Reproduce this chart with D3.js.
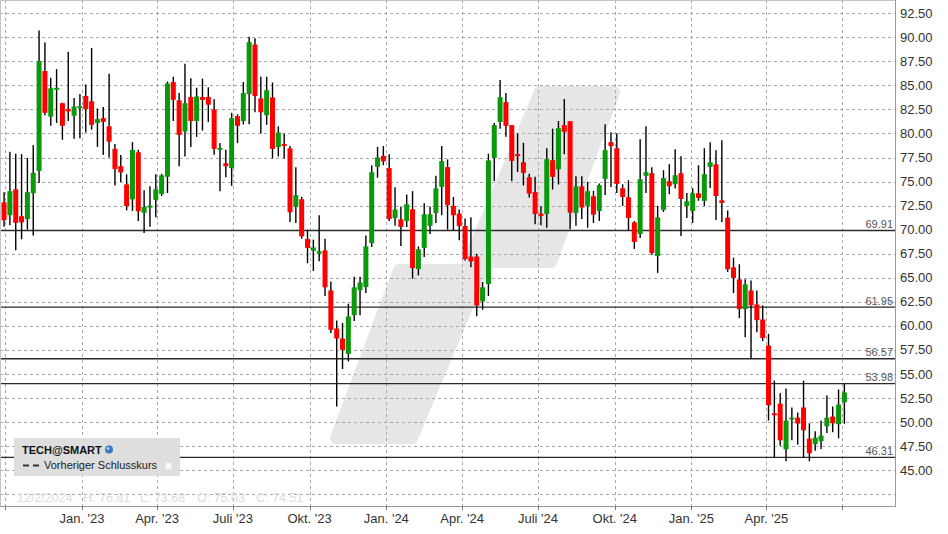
<!DOCTYPE html>
<html><head><meta charset="utf-8">
<script src="https://cdn.jsdelivr.net/npm/d3@7"></script>
<style>
body{margin:0;background:#fff}
svg{display:block}
text{font-family:"Liberation Sans",Arial,sans-serif}
</style>
</head><body>
<svg id="chart" width="948" height="534"></svg>
<script>
// ---------------- DATA ----------------
const dates = [
"2022-09-19","2022-09-26","2022-10-03","2022-10-10","2022-10-17","2022-10-24","2022-10-31","2022-11-07","2022-11-14","2022-11-21",
"2022-11-28","2022-12-05","2022-12-12","2022-12-19","2022-12-26","2023-01-02","2023-01-09","2023-01-16","2023-01-23","2023-01-30",
"2023-02-06","2023-02-13","2023-02-20","2023-02-27","2023-03-06","2023-03-13","2023-03-20","2023-03-27","2023-04-03","2023-04-10",
"2023-04-17","2023-04-24","2023-05-01","2023-05-08","2023-05-15","2023-05-22","2023-05-29","2023-06-05","2023-06-12","2023-06-19",
"2023-06-26","2023-07-03","2023-07-10","2023-07-17","2023-07-24","2023-07-31","2023-08-07","2023-08-14","2023-08-21","2023-08-28",
"2023-09-04","2023-09-11","2023-09-18","2023-09-25","2023-10-02","2023-10-09","2023-10-16","2023-10-23","2023-10-30","2023-11-06",
"2023-11-13","2023-11-20","2023-11-27","2023-12-04","2023-12-11","2023-12-18","2023-12-25","2024-01-01","2024-01-08","2024-01-15",
"2024-01-22","2024-01-29","2024-02-05","2024-02-12","2024-02-19","2024-02-26","2024-03-04","2024-03-11","2024-03-18","2024-03-25",
"2024-04-01","2024-04-08","2024-04-15","2024-04-22","2024-04-29","2024-05-06","2024-05-13","2024-05-20","2024-05-27","2024-06-03",
"2024-06-10","2024-06-17","2024-06-24","2024-07-01","2024-07-08","2024-07-15","2024-07-22","2024-07-29","2024-08-05","2024-08-12",
"2024-08-19","2024-08-26","2024-09-02","2024-09-09","2024-09-16","2024-09-23","2024-09-30","2024-10-07","2024-10-14","2024-10-21",
"2024-10-28","2024-11-04","2024-11-11","2024-11-18","2024-11-25","2024-12-02","2024-12-09","2024-12-16","2024-12-23","2024-12-30",
"2025-01-06","2025-01-13","2025-01-20","2025-01-27","2025-02-03","2025-02-10","2025-02-17","2025-02-24","2025-03-03","2025-03-10",
"2025-03-17","2025-03-24","2025-03-31","2025-04-07","2025-04-14","2025-04-21","2025-04-28","2025-05-05","2025-05-12","2025-05-19",
"2025-05-26","2025-06-02","2025-06-09","2025-06-16","2025-06-23","2025-06-30"];

const open = [
76.6,72.85,71.5,74.2,71.4,71.1,73.8,76.1,86.5,81.75,
84.6,83.15,82.55,81.85,82.7,83.9,83.35,81.1,81.6,80.75,
78.4,76.6,74.7,73.15,78.05,71.75,72.35,73.1,73.7,75.5,
85.35,83.45,80.2,83.8,81.3,83.8,83.8,82.5,78.3,76.9,
76.4,81.8,81.3,84.1,89.25,83.65,81.9,83.75,78.6,78.9,
78.45,72.36,73.16,69.03,67.8,67.5,67.85,63.68,59.72,58.68,
57.08,61.1,63.7,64.03,68.6,76.53,77.67,76.4,71.2,71.07,
70.9,72.12,65.9,68.1,70.4,71.74,74.44,76.5,72.47,71.67,
70.38,67.2,67.2,62.53,64.34,77.46,81.2,83.26,80.87,77.85,
77.0,75.45,73.9,71.67,71.63,77.22,76.28,80.87,81.28,71.74,
74.5,72.47,73.47,71.94,75.28,79.1,78.47,74.3,73.37,70.76,
69.55,75.6,75.87,67.26,72.05,75.03,74.72,75.87,72.47,71.94,
73.78,72.99,76.53,76.8,73.05,71.25,66.08,64.83,61.74,63.68,
62.22,60.66,57.95,50.9,51.9,47.15,50.28,50.45,51.5,48.26,
47.67,47.99,49.55,50.56,49.76,52.05];

const high = [
77.0,73.9,78.1,77.9,77.85,77.45,78.8,90.7,89.45,85.8,
86.7,83.2,88.5,83.7,84.1,85.1,88.9,82.6,82.75,86.2,
78.9,77.75,75.75,79.1,78.3,74.1,74.5,75.75,75.8,85.4,
85.9,84.2,87.25,85.75,84.75,85.7,84.8,83.55,79.0,78.3,
82.15,82.0,85.35,90.05,89.9,85.9,85.9,85.3,80.75,80.0,
78.7,76.5,73.4,70.0,68.96,71.5,69.06,64.6,60.55,60.3,
62.3,65.1,65.1,69.4,76.7,78.6,78.7,77.85,74.4,72.4,
73.65,74.0,68.26,72.74,72.4,75.6,78.7,77.3,73.4,72.1,
71.15,71.3,67.5,64.55,77.9,81.1,85.55,84.2,80.87,80.0,
79.03,75.8,75.5,72.43,78.47,80.5,81.3,83.58,81.28,75.56,
75.56,74.97,74.03,74.8,80.97,80.14,80.03,74.72,75.14,70.9,
79.4,80.76,76.5,72.47,76.18,76.81,78.37,77.64,73.8,74.3,
76.7,78.47,79.1,78.26,79.3,72.0,67.08,66.4,64.83,64.72,
63.68,62.12,59.17,54.3,52.99,53.47,51.5,50.97,54.3,49.86,
49.03,50.14,52.74,51.6,53.37,53.96];

const low = [
72.5,70.3,70.45,67.85,69.0,70.0,69.4,74.85,81.9,80.8,
81.1,79.35,81.3,79.45,79.5,80.1,80.4,78.6,77.75,77.5,
74.6,74.95,72.0,71.95,70.9,69.65,70.3,71.3,73.5,73.8,
81.3,76.6,77.6,78.6,79.65,80.3,81.2,77.8,74.0,75.45,
74.55,79.0,80.95,80.95,82.2,80.0,80.9,77.4,77.6,77.4,
70.8,70.7,69.06,66.5,65.7,66.7,63.1,59.24,51.6,55.5,
56.3,60.5,61.1,63.4,68.2,75.4,76.7,70.9,70.4,68.3,
70.28,64.9,65.24,67.15,69.55,70.7,71.5,70.0,69.9,68.9,
66.8,66.1,61.0,61.67,63.1,75.07,80.5,79.65,75.07,76.0,
74.6,73.33,70.55,70.45,70.2,74.17,74.7,77.85,70.03,70.4,
71.1,70.2,70.7,70.9,73.6,74.44,73.82,72.47,69.93,67.99,
69.13,73.8,67.36,65.5,71.84,73.68,74.27,69.34,71.2,70.7,
73.0,72.47,74.34,71.0,70.8,65.6,63.4,60.8,58.82,56.56,
59.34,58.4,50.14,46.25,47.53,45.9,48.1,47.64,46.25,45.9,
47.0,47.19,48.85,48.92,48.3,49.8];

const close = [
72.8,70.97,74.0,70.7,70.75,73.9,75.9,87.55,82.15,84.7,
84.75,80.8,82.3,82.8,82.85,82.55,80.9,81.5,81.2,79.15,
76.3,75.95,72.45,78.3,71.9,72.35,72.5,74.2,75.65,85.2,
83.5,79.85,83.15,81.3,83.85,83.5,83.0,78.4,78.5,76.6,
81.6,80.8,84.2,89.5,83.9,82.2,84.5,78.4,80.1,78.7,
71.8,73.58,69.3,68.1,68.15,67.75,64.0,59.58,58.68,57.5,
60.97,64.0,64.5,68.26,75.97,77.5,77.1,71.1,72.1,70.28,
72.64,66.0,67.95,71.6,71.6,74.3,77.12,72.55,71.5,70.38,
66.94,66.7,62.1,64.0,77.2,80.87,83.78,80.8,77.15,77.67,
75.9,73.75,71.63,71.42,77.33,75.49,80.55,80.17,71.77,74.5,
72.3,74.0,71.56,74.62,78.26,78.68,74.76,73.4,71.2,68.72,
75.24,75.97,67.57,71.28,75.35,74.51,75.66,73.2,72.95,73.78,
73.3,75.76,77.0,73.5,72.78,65.87,64.97,61.74,64.3,62.12,
60.59,58.72,51.74,50.7,48.09,50.14,50.45,49.83,49.13,46.74,
48.37,48.58,50.45,49.86,51.8,53.06];

const yTicks = [42.5,45,47.5,50,52.5,55,57.5,60,62.5,65,67.5,70,72.5,75,77.5,80,82.5,85,87.5,90,92.5];
const yLabelMin = 45;
const xTickDates  = ["2022-10-01","2023-01-01","2023-04-01","2023-07-01","2023-10-01","2024-01-01","2024-04-01","2024-07-01","2024-10-01","2025-01-01","2025-04-01","2025-07-01"];
const xTickLabels = ["","Jan. '23","Apr. '23","Juli '23","Okt. '23","Jan. '24","Apr. '24","Juli '24","Okt. '24","Jan. '25","Apr. '25",""];
const levels = [69.91, 61.95, 56.57, 53.98, 46.31];
const legendTitle = "TECH@SMART";
const legendItem = "Vorheriger Schlusskurs";
const hoverDate = "2024-12-02";

// ---------------- LAYOUT ----------------
const parse = d3.timeParse("%Y-%m-%d");
const L = 0, R = 895, T = 0, B = 506;
const svg = d3.select("#chart");
svg.append("rect").attr("width",948).attr("height",534).attr("fill","#fff");

const x = d3.scaleTime()
  .domain([new Date(2022,8,24,15), new Date(2025,8,2,5)])
  .range([L, R]);
const y = d3.scaleLinear().domain([41.256, 93.883]).range([B, T]);

const candles = dates.map((d,i)=>({date:parse(d), o:open[i], h:high[i], l:low[i], c:close[i]}));
const cx = d => x(d3.timeHour.offset(d.date, 84));

svg.append("clipPath").attr("id","plot").append("rect")
  .attr("x",L).attr("y",T).attr("width",R-L).attr("height",B-T);
const plot = svg.append("g").attr("clip-path","url(#plot)");

// watermark logo
const wm = [[540,92],[614,92],[551,262],[486,262],[412,438],[336,438],[399,270],[465,270]];
plot.append("path")
  .attr("d", d3.line()(wm) + "Z")
  .attr("fill","#e6e6e6").attr("stroke","#e6e6e6")
  .attr("stroke-width",12).attr("stroke-linejoin","round");

// grid
plot.append("g").selectAll("line").data(yTicks).join("line")
  .attr("x1",L).attr("x2",R)
  .attr("y1",d=>Math.round(y(d))+0.5).attr("y2",d=>Math.round(y(d))+0.5)
  .attr("stroke","#a8a8a8").attr("stroke-width",1).attr("stroke-dasharray","3,3");
plot.append("g").selectAll("line").data(xTickDates).join("line")
  .attr("x1",d=>Math.round(x(parse(d)))+0.5).attr("x2",d=>Math.round(x(parse(d)))+0.5)
  .attr("y1",T).attr("y2",B)
  .attr("stroke","#a8a8a8").attr("stroke-width",1).attr("stroke-dasharray","3,3");

// level lines
plot.append("g").selectAll("line").data(levels).join("line")
  .attr("x1",L).attr("x2",R)
  .attr("y1",d=>y(d)).attr("y2",d=>y(d))
  .attr("stroke","#2a2a2a").attr("stroke-width",1.3);

// candles
const cg = plot.append("g");
cg.selectAll("line").data(candles).join("line")
  .attr("x1",cx).attr("x2",cx)
  .attr("y1",d=>y(d.h)).attr("y2",d=>y(d.l))
  .attr("stroke","#000").attr("stroke-width",1.4);
cg.selectAll("rect").data(candles).join("rect")
  .attr("x",d=>cx(d)-2.5).attr("width",5)
  .attr("y",d=>y(Math.max(d.o,d.c)))
  .attr("height",d=>Math.max(2, Math.abs(y(d.o)-y(d.c))))
  .attr("fill",d=>d.c>=d.o ? "#0a990a" : "#ff0000");

// level labels
svg.append("g").selectAll("text").data(levels).join("text")
  .attr("x",R-2).attr("y",d=>y(d)-2.5)
  .attr("text-anchor","end").attr("font-size","11px").attr("fill","#555")
  .text(d=>d3.format(".2f")(d));

// frame
svg.append("line").attr("x1",0).attr("x2",R).attr("y1",0.5).attr("y2",0.5).attr("stroke","#c4c4c4");
svg.append("line").attr("x1",0.5).attr("x2",0.5).attr("y1",0).attr("y2",B).attr("stroke","#c4c4c4");
svg.append("line").attr("x1",R+0.5).attr("x2",R+0.5).attr("y1",0).attr("y2",B+1).attr("stroke","#9a9a9a");
svg.append("line").attr("x1",0).attr("x2",R+1).attr("y1",B+0.5).attr("y2",B+0.5).attr("stroke","#9a9a9a");

// y axis labels
svg.append("g").selectAll("text").data(yTicks.filter(v=>v>=yLabelMin)).join("text")
  .attr("x",R+5).attr("y",d=>y(d)).attr("dy","0.36em")
  .attr("font-size","13px").attr("fill","#333")
  .text(d=>d3.format(".2f")(d));

// x axis ticks + labels
svg.append("g").selectAll("line").data(xTickDates).join("line")
  .attr("x1",d=>Math.round(x(parse(d)))+0.5).attr("x2",d=>Math.round(x(parse(d)))+0.5)
  .attr("y1",B).attr("y2",B+4).attr("stroke","#777");
svg.append("g").selectAll("text").data(xTickDates).join("text")
  .attr("x",d=>x(parse(d))).attr("y",523)
  .attr("text-anchor","middle").attr("font-size","13px").attr("fill","#333")
  .text((d,i)=>xTickLabels[i]);

// legend
const lg = svg.append("g");
lg.append("rect").attr("x",14).attr("y",438).attr("width",166).attr("height",38).attr("fill","#dedede");
lg.append("text").attr("x",22).attr("y",453.5).attr("font-size","11px").attr("font-weight","bold").attr("fill","#111").text(legendTitle);
const gl = lg.append("g").attr("transform","translate(109,449.5)");
gl.append("circle").attr("r",4).attr("fill","#3d78c0");
gl.append("circle").attr("r",1.6).attr("cx",-1).attr("cy",-1).attr("fill","#a9cdf2");
lg.append("line").attr("x1",23).attr("x2",39).attr("y1",465.5).attr("y2",465.5)
  .attr("stroke","#333").attr("stroke-width",2).attr("stroke-dasharray","6,4");
lg.append("text").attr("x",44).attr("y",469).attr("font-size","11px").attr("fill","#222").text(legendItem);
lg.append("rect").attr("x",165.5).attr("y",462.5).attr("width",6).attr("height",7).attr("fill","#f8f8ff").attr("stroke","#e4e4ec");

// footer (hover info)
const hi = dates.indexOf(hoverDate);
const fmt = d3.format(".2f");
const hd = parse(hoverDate);
const footer = [
  [17, `${hd.getMonth()+1}/${hd.getDate()}/${hd.getFullYear()}`],
  [83, `H: ${fmt(high[hi])}`],
  [140, `L: ${fmt(low[hi])}`],
  [197, `O: ${fmt(open[hi])}`],
  [256, `C: ${fmt(close[hi])}`]
];
svg.append("g").selectAll("text").data(footer).join("text")
  .attr("x",d=>d[0]).attr("y",502).attr("font-size","12.5px").attr("fill","#dcdcdc")
  .text(d=>d[1]);
</script>
</body></html>
